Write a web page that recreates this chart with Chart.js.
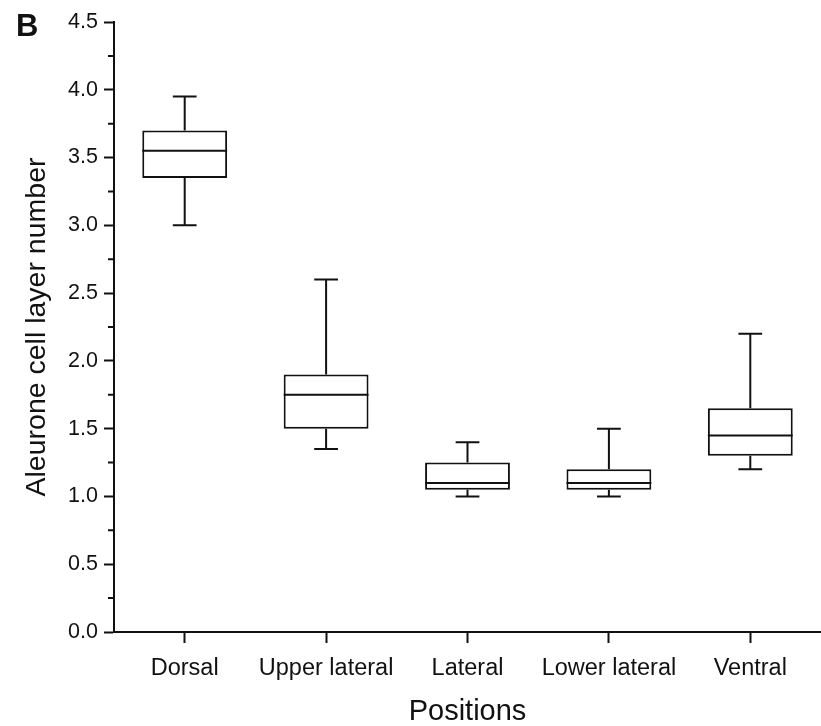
<!DOCTYPE html>
<html>
<head>
<meta charset="utf-8">
<script src="https://cdn.jsdelivr.net/npm/chart.js@4/dist/chart.umd.min.js"></script>
<style>
  html, body { margin: 0; padding: 0; background: #fff; }
  #wrap { width: 821px; height: 726px; }
</style>
</head>
<body>
<div id="wrap"><canvas id="boxChart"></canvas></div>
<script>
// aleurone layer counts per kernel position
const positions = ["Dorsal", "Upper lateral", "Lateral", "Lower lateral", "Ventral"];
const whiskerLow  = [3.0, 1.35, 1.0, 1.0, 1.2];
const q1          = [3.35, 1.5, 1.05, 1.05, 1.3];
const medians     = [3.55, 1.75, 1.1, 1.1, 1.45];
const q3          = [3.7, 1.9, 1.25, 1.2, 1.65];
const whiskerHigh = [3.95, 2.6, 1.4, 1.5, 2.2];
const minorTicks  = [0.25, 0.75, 1.25, 1.75, 2.25, 2.75, 3.25, 3.75, 4.25];

const fontFamily = "'Liberation Sans', Arial, sans-serif";
const ink = "#111";

// medians, whiskers and caps on top of the floating bars
const boxParts = {
  id: "boxParts",
  afterDatasetsDraw(chart) {
    const ctx = chart.ctx;
    const y = chart.scales.y;
    const meta = chart.getDatasetMeta(0);
    ctx.save();
    ctx.strokeStyle = ink;
    ctx.lineWidth = 2;
    meta.data.forEach(function (bar, i) {
      const half = bar.width / 2;
      const cap = bar.width * 0.14;
      const cx = bar.x;
      ctx.beginPath();
      // median
      ctx.moveTo(cx - half, y.getPixelForValue(medians[i]));
      ctx.lineTo(cx + half, y.getPixelForValue(medians[i]));
      // upper whisker
      ctx.moveTo(cx, y.getPixelForValue(q3[i]));
      ctx.lineTo(cx, y.getPixelForValue(whiskerHigh[i]));
      ctx.moveTo(cx - cap, y.getPixelForValue(whiskerHigh[i]));
      ctx.lineTo(cx + cap, y.getPixelForValue(whiskerHigh[i]));
      // lower whisker
      ctx.moveTo(cx, y.getPixelForValue(q1[i]));
      ctx.lineTo(cx, y.getPixelForValue(whiskerLow[i]));
      ctx.moveTo(cx - cap, y.getPixelForValue(whiskerLow[i]));
      ctx.lineTo(cx + cap, y.getPixelForValue(whiskerLow[i]));
      ctx.stroke();
    });
    ctx.restore();
  },
  afterDraw(chart) {
    const ctx = chart.ctx;
    const y = chart.scales.y;
    const left = chart.chartArea.left;
    ctx.save();
    // short minor ticks between the labelled ones
    ctx.strokeStyle = ink;
    ctx.lineWidth = 2;
    ctx.beginPath();
    minorTicks.forEach(function (v) {
      const py = y.getPixelForValue(v);
      ctx.moveTo(left - 6, py);
      ctx.lineTo(left, py);
    });
    ctx.stroke();
    // panel letter
    ctx.fillStyle = ink;
    ctx.font = "bold 31px " + fontFamily;
    ctx.textBaseline = "alphabetic";
    ctx.textAlign = "left";
    ctx.fillText("B", 16, 36);
    ctx.restore();
  }
};

new Chart(document.getElementById("boxChart"), {
  type: "bar",
  data: {
    labels: positions,
    datasets: [{
      data: positions.map((p, i) => [q1[i], q3[i]]),
      backgroundColor: "#fff",
      borderColor: ink,
      borderWidth: 2,
      borderSkipped: false,
      barPercentage: 0.6,
      categoryPercentage: 1.0
    }]
  },
  options: {
    responsive: true,
    maintainAspectRatio: false,
    animation: false,
    layout: { padding: { top: 22, left: 0, right: 0, bottom: 0 } },
    plugins: {
      legend: { display: false },
      tooltip: { enabled: false }
    },
    scales: {
      x: {
        offset: true,
        border: { display: true, color: ink, width: 2 },
        grid: {
          offset: false,
          drawOnChartArea: false,
          drawTicks: true,
          tickLength: 11,
          tickColor: ink,
          tickWidth: 2
        },
        ticks: {
          color: ink,
          padding: 11,
          font: { family: fontFamily, size: 23.5 },
          maxRotation: 0
        },
        title: {
          display: true,
          text: "Positions",
          color: ink,
          font: { family: fontFamily, size: 29, lineHeight: 1 },
          padding: { top: 0, bottom: 0 }
        },
        afterFit(scale) { scale.height = 94; }
      },
      y: {
        min: 0,
        max: 4.5,
        border: { display: true, color: ink, width: 2 },
        grid: {
          drawOnChartArea: false,
          drawTicks: true,
          tickLength: 10,
          tickColor: ink,
          tickWidth: 2
        },
        ticks: {
          stepSize: 0.5,
          color: ink,
          padding: 6,
          font: { family: fontFamily, size: 21.5 },
          callback: v => Number(v).toFixed(1)
        },
        title: {
          display: true,
          text: "Aleurone cell layer number",
          color: ink,
          font: { family: fontFamily, size: 28.5 },
          padding: { top: 20, bottom: 0 }
        },
        afterFit(scale) { scale.width = 114; }
      }
    }
  },
  plugins: [boxParts]
});
</script>
</body>
</html>
